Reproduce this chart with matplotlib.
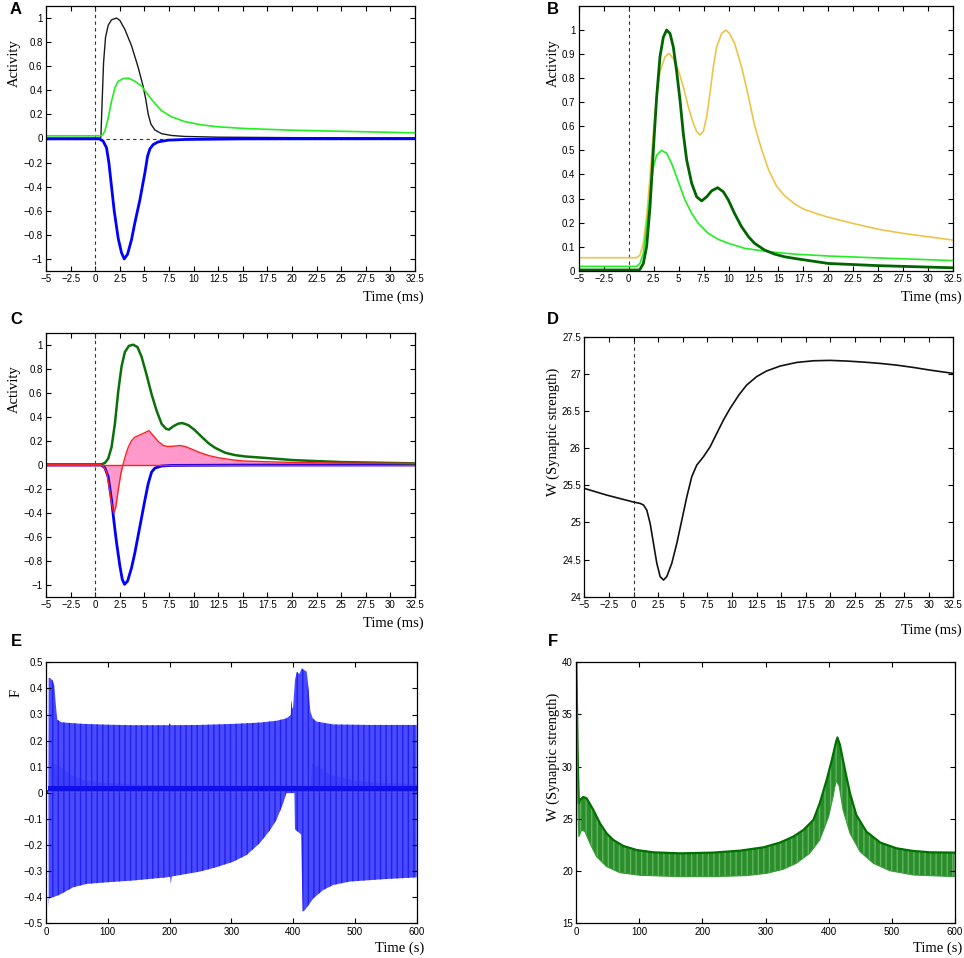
import matplotlib
matplotlib.use('Agg')
import matplotlib.pyplot as plt
import numpy as np

# ---- panel A: activity traces (ms) ----
a_black_t = [-5, 0.5, 0.58, 0.71, 0.85, 1.05, 1.32, 1.66, 2.17, 2.51, 3.02, 3.69, 4.37, 4.88, 5.15, 5.39,
             5.66, 6.07, 6.75, 7.76, 9.12, 12.5, 20, 32.5]
a_black_v = [0.003, 0.003, 0.014, 0.32, 0.63, 0.84, 0.94, 0.985, 1.0, 0.98, 0.905, 0.77, 0.59, 0.43, 0.32, 0.20,
             0.12, 0.07, 0.04, 0.025, 0.017, 0.011, 0.007, 0.005]
a_green_t = [-5, 0.47, 0.75, 0.98, 1.32, 1.66, 2.0, 2.34, 2.85, 3.42, 4.03, 4.71, 5.39, 6.07, 6.75, 7.76, 9.12,
             10.8, 12.5, 15.2, 20, 25, 32.5]
a_green_v = [0.022, 0.022, 0.03, 0.061, 0.17, 0.31, 0.42, 0.475, 0.498, 0.5, 0.475, 0.435, 0.36, 0.29, 0.23, 0.18,
             0.14, 0.113, 0.097, 0.083, 0.069, 0.06, 0.047]
a_blue_t = [-5, 0.3, 0.47, 0.81, 1.15, 1.39, 1.66, 1.93, 2.34, 2.68, 2.95, 3.29, 3.69, 4.03, 4.54, 5.05, 5.32,
            5.56, 5.9, 6.4, 7.42, 9.12, 15.2, 32.5]
a_blue_v = [-0.003, -0.003, -0.005, -0.022, -0.077, -0.2, -0.4, -0.6, -0.83, -0.95, -1.0, -0.96, -0.84, -0.70,
            -0.51, -0.285, -0.147, -0.086, -0.05, -0.028, -0.014, -0.008, -0.003, -0.002]

# ---- panel B ----
b_dark_t = [-5, 1.0, 1.13, 1.47, 1.80, 2.14, 2.47, 2.80, 3.14, 3.47, 3.80, 4.14, 4.47, 4.80, 5.14, 5.47, 5.81,
            6.31, 6.81, 7.31, 7.81, 8.31, 8.91, 9.48, 9.98, 10.6, 11.3, 12.0, 12.6, 13.6, 14.6, 15.6, 16.6,
            20, 25, 32.5]
b_dark_v = [0.003, 0.003, 0.005, 0.03, 0.10, 0.266, 0.50, 0.72, 0.89, 0.97, 1.0, 0.986, 0.93, 0.83, 0.71, 0.57,
            0.46, 0.363, 0.307, 0.29, 0.307, 0.332, 0.345, 0.328, 0.294, 0.238, 0.183, 0.141, 0.114, 0.086,
            0.069, 0.058, 0.051, 0.03, 0.021, 0.012]
b_light_t = [-5, 0.8, 1.13, 1.47, 1.80, 2.14, 2.47, 2.80, 3.30, 3.80, 4.30, 4.97, 5.64, 6.31, 6.97, 7.97, 8.98,
             9.98, 11.6, 13.3, 15.0, 16.6, 20, 25, 32.5]
b_light_v = [0.018, 0.018, 0.03, 0.072, 0.183, 0.32, 0.43, 0.48, 0.50, 0.488, 0.446, 0.37, 0.294, 0.238, 0.197,
             0.155, 0.13, 0.114, 0.093, 0.083, 0.075, 0.069, 0.061, 0.053, 0.042]
b_yellow_t = [-5, 0.8, 1.13, 1.47, 1.80, 2.14, 2.47, 2.80, 3.14, 3.64, 4.04, 4.47, 4.97, 5.47, 5.97, 6.47, 6.81,
              7.14, 7.47, 7.81, 8.14, 8.48, 8.81, 9.31, 9.74, 10.1, 10.6, 11.3, 12.0, 12.6, 13.3, 14.0, 14.8,
              15.6, 16.6, 17.5, 18.75, 20, 22.5, 25, 27.5, 30, 32.5]
b_yellow_v = [0.054, 0.054, 0.065, 0.114, 0.224, 0.39, 0.57, 0.723, 0.827, 0.889, 0.903, 0.882, 0.834, 0.765,
              0.681, 0.612, 0.578, 0.564, 0.578, 0.64, 0.737, 0.848, 0.93, 0.986, 1.0, 0.986, 0.945, 0.848,
              0.723, 0.605, 0.505, 0.42, 0.352, 0.312, 0.278, 0.256, 0.238, 0.222, 0.196, 0.172, 0.155, 0.141,
              0.127]

# ---- panel C ----
c_green_t = [-5, 0.64, 0.98, 1.32, 1.66, 2.0, 2.34, 2.68, 3.02, 3.42, 3.86, 4.3, 4.71, 5.22, 5.73, 6.24, 6.75,
             7.19, 7.49, 7.93, 8.44, 8.85, 9.46, 10.1, 10.8, 11.5, 12.2, 13.2, 14.2, 15.2, 17.5, 20, 22.5, 25,
             32.5]
c_green_v = [0.003, 0.003, 0.014, 0.05, 0.146, 0.34, 0.61, 0.82, 0.94, 0.99, 1.0, 0.98, 0.90, 0.75, 0.587, 0.45,
             0.34, 0.30, 0.292, 0.32, 0.342, 0.347, 0.33, 0.29, 0.234, 0.18, 0.14, 0.10, 0.08, 0.069, 0.055,
             0.039, 0.03, 0.022, 0.011]
c_blue_t = [-5, 0.64, 0.98, 1.32, 1.66, 1.93, 2.17, 2.51, 2.75, 2.98, 3.29, 3.69, 4.03, 4.54, 5.05, 5.39, 5.73,
            6.07, 6.75, 7.76, 15.2, 32.5]
c_blue_v = [-0.003, -0.003, -0.025, -0.10, -0.295, -0.49, -0.65, -0.845, -0.956, -0.997, -0.97, -0.86, -0.735,
            -0.515, -0.295, -0.157, -0.061, -0.028, -0.011, -0.006, -0.003, -0.002]
c_red_t = [-5, 0.47, 0.81, 1.15, 1.42, 1.66, 1.9, 2.1, 2.34, 2.61, 2.85, 3.08, 3.36, 3.69, 4.03, 4.54, 5.05,
           5.46, 5.9, 6.41, 6.92, 7.36, 7.93, 8.61, 9.12, 9.8, 10.6, 11.5, 12.5, 13.9, 15.2, 20, 25, 32.5]
c_red_v = [0.003, 0.003, -0.01, -0.06, -0.185, -0.32, -0.405, -0.35, -0.21, -0.074, 0.008, 0.077, 0.146, 0.20,
           0.229, 0.248, 0.267, 0.284, 0.242, 0.193, 0.16, 0.152, 0.154, 0.16, 0.152, 0.13, 0.102, 0.077,
           0.058, 0.041, 0.03, 0.019, 0.014, 0.011]

# ---- panel D: synaptic strength (ms) ----
d_t = [-5, -2.73, 0, 0.68, 1.02, 1.35, 1.69, 2.03, 2.37, 2.71, 3.05, 3.38, 3.89, 4.4, 4.91, 5.42, 5.92, 6.43,
       7.11, 7.79, 8.46, 9.14, 9.82, 10.7, 11.5, 12.5, 13.5, 14.9, 16.6, 18.3, 20.0, 21.7, 23.4, 25.1, 26.7,
       28.4, 30.1, 32.5]
d_w = [25.458, 25.368, 25.274, 25.256, 25.234, 25.166, 24.987, 24.718, 24.449, 24.27, 24.224, 24.27, 24.449,
       24.718, 25.03, 25.346, 25.615, 25.772, 25.884, 26.019, 26.198, 26.378, 26.535, 26.714, 26.849, 26.961,
       27.037, 27.105, 27.154, 27.176, 27.181, 27.172, 27.158, 27.14, 27.118, 27.087, 27.051, 27.006]

# ---- panel E: envelope of F over 600 s ----
e_up_t = [0, 3.9, 4.3, 6.5, 10.8, 13.5, 16.2, 18.3, 25, 60, 98, 141, 199, 200.5, 202, 249, 303, 346, 373, 389,
          396, 397.5, 398.5, 400, 403, 406, 410, 414, 418, 422, 425, 428, 432, 438, 465, 519, 600]
e_up_v = [0.01, 0.01, 0.44, 0.44, 0.43, 0.41, 0.33, 0.28, 0.27, 0.264, 0.261, 0.259, 0.259, 0.267, 0.259, 0.26,
          0.264, 0.269, 0.276, 0.285, 0.298, 0.356, 0.32, 0.33, 0.432, 0.464, 0.455, 0.477, 0.47, 0.464, 0.394,
          0.31, 0.285, 0.273, 0.262, 0.26, 0.26]
e_lo_t = [0, 3.9, 4.3, 5, 6.5, 11.9, 22.7, 44, 66, 98, 141, 195, 201, 202, 203.5, 205, 217, 249, 276, 303, 325,
          346, 363, 373, 384, 389, 390, 402, 403, 408, 413, 414, 415.5, 419, 433, 449, 465, 492, 546, 600]
e_lo_v = [0, 0, -0.44, -0.41, -0.40, -0.40, -0.39, -0.362, -0.349, -0.343, -0.336, -0.324, -0.321, -0.35, -0.322,
          -0.32, -0.315, -0.302, -0.285, -0.264, -0.238, -0.193, -0.142, -0.104, -0.04, -0.002, 0.008, 0.008,
          -0.14, -0.15, -0.16, -0.30, -0.455, -0.45, -0.404, -0.372, -0.353, -0.34, -0.331, -0.324]
e_fan_t = [8, 20, 40, 60, 100, 150, 200, 300, 380, 428, 430, 440, 460, 500, 550, 600]
e_fan_v = [0.12, 0.105, 0.07, 0.05, 0.04, 0.032, 0.03, 0.03, 0.03, 0.03, 0.115, 0.1, 0.07, 0.048, 0.038, 0.035]
e_band_t = [4, 600]
e_band_lo = [0.005, 0.005]
e_band_hi = [0.025, 0.025]

# ---- panel F: envelope of W over 600 s ----
f_up_t = [0, 1, 2.5, 4, 5.8, 11, 16.4, 27, 37.5, 48, 58.7, 74.5, 95.7, 122, 164, 217, 260, 297, 323, 344, 360,
          376, 386, 397, 405, 412, 414, 418, 426, 434, 444, 460, 482, 508, 534, 561, 600]
f_up_v = [40, 36, 30, 26.5, 26.8, 27.1, 26.97, 25.86, 24.58, 23.62, 22.98, 22.41, 22.02, 21.8, 21.7, 21.77,
          21.96, 22.28, 22.73, 23.3, 23.94, 24.9, 26.5, 28.73, 30.6, 32.4, 32.8, 32.1, 29.7, 27.45, 25.38, 23.78,
          22.73, 22.18, 21.93, 21.8, 21.77]
f_lo_t = [0, 1, 3, 4, 8.5, 13.7, 21.7, 32, 48, 69, 101, 164, 217, 270, 302, 328, 349, 370, 386, 400, 407, 412,
          417, 423, 434, 450, 471, 497, 534, 600]
f_lo_v = [40, 34, 25, 23.3, 23.94, 23.78, 22.66, 21.39, 20.43, 19.85, 19.6, 19.47, 19.47, 19.57, 19.79, 20.17,
          20.75, 21.7, 22.98, 25.2, 27.1, 28.7, 28.1, 25.86, 23.62, 21.86, 20.75, 20.04, 19.63, 19.47]

ms_ticks = [-5, -2.5, 0, 2.5, 5, 7.5, 10, 12.5, 15, 17.5, 20, 22.5, 25, 27.5, 30, 32.5]
act_ticks = [-1, -0.8, -0.6, -0.4, -0.2, 0, 0.2, 0.4, 0.6, 0.8, 1]
b_ticks = [0, 0.1, 0.2, 0.3, 0.4, 0.5, 0.6, 0.7, 0.8, 0.9, 1]
d_ticks = [24, 24.5, 25, 25.5, 26, 26.5, 27, 27.5]
s_ticks = [0, 100, 200, 300, 400, 500, 600]
e_ticks = [-0.5, -0.4, -0.3, -0.2, -0.1, 0, 0.1, 0.2, 0.3, 0.4, 0.5]
f_ticks = [15, 20, 25, 30, 35, 40]

W, H = 964, 958
fig = plt.figure(figsize=(W / 100, H / 100), dpi=100)
sans = 'Liberation Sans'
serif = 'Liberation Serif'


def fmt(v, pos=None):
    s = '%g' % round(v, 4)
    return s.replace('-', '\u2212')


def make_axes(l, t, r, b, xlim, ylim, xt, yt):
    ax = fig.add_axes([l / W, 1 - b / H, (r - l) / W, (b - t) / H])
    ax.set_xlim(*xlim)
    ax.set_ylim(*ylim)
    ax.set_xticks(xt)
    ax.set_yticks(yt)
    ax.xaxis.set_major_formatter(plt.FuncFormatter(fmt))
    ax.yaxis.set_major_formatter(plt.FuncFormatter(fmt))
    ax.tick_params(direction='in', length=3.5, width=0.8, top=True, right=True, labelsize=7, pad=2.5)
    for lab in ax.get_xticklabels() + ax.get_yticklabels():
        lab.set_family(sans)
    for sp in ax.spines.values():
        sp.set_linewidth(0.9)
    return ax


def px_text(x, y, s, **kw):
    fig.text(x / W, 1 - y / H, s, **kw)


def letter(x, y, s):
    px_text(x, y, s, fontsize=12, fontweight='bold', family=sans, ha='center', va='center')


def ylab(x, y, s):
    px_text(x, y, s, fontsize=10.5, family=serif, rotation=90, ha='center', va='center')


def xlab(x, y, s):
    px_text(x, y, s, fontsize=10.5, family=serif, ha='right', va='center')


# A
ax = make_axes(46, 6, 415, 271, (-5, 32.5), (-1.1, 1.1), ms_ticks, act_ticks)
ax.axvline(0, color='#333333', ls=(0, (3, 3)), lw=0.8)
ax.axhline(0, color='#333333', ls=(0, (3, 3)), lw=0.8)
ax.plot(a_black_t, a_black_v, color='#1a1a1a', lw=1.0)
ax.plot(a_green_t, a_green_v, color='#22ee22', lw=1.2)
ax.plot(a_blue_t, a_blue_v, color='#0000ff', lw=2.0)
letter(16, 9, 'A')
ylab(14, 63, 'Activity')
xlab(424, 297, 'Time (ms)')

# B
ax = make_axes(578.7, 6, 953.3, 270.7, (-5, 32.5), (0, 1.1), ms_ticks, b_ticks)
ax.axvline(0, color='#333333', ls=(0, (3, 3)), lw=0.8)
ax.plot(b_yellow_t, b_yellow_v, color='#ebc54a', lw=1.2)
ax.plot(b_light_t, b_light_v, color='#22ee22', lw=1.2)
ax.plot(b_dark_t, b_dark_v, color='#006400', lw=2.0)
letter(553, 9, 'B')
ylab(553, 63, 'Activity')
xlab(962, 297, 'Time (ms)')

# C
ax = make_axes(46, 332.7, 415, 596.7, (-5, 32.5), (-1.1, 1.1), ms_ticks, act_ticks)
ax.axvline(0, color='#333333', ls=(0, (3, 3)), lw=0.8)
ax.fill_between(c_red_t, 0, c_red_v, color='#ff99cc', lw=0)
ax.plot(c_blue_t, c_blue_v, color='#0000ff', lw=2.0)
ax.plot(c_green_t, c_green_v, color='#0a700a', lw=1.8)
ax.axhline(0, color='#ff2020', lw=1.0)
ax.plot(c_red_t, c_red_v, color='#ff2020', lw=1.0)
letter(16, 319, 'C')
ylab(14, 389, 'Activity')
xlab(424, 623, 'Time (ms)')

# D
ax = make_axes(584.3, 336.7, 953.3, 596.7, (-5, 32.5), (24, 27.5), ms_ticks, d_ticks)
ax.axvline(0, color='#333333', ls=(0, (3, 3)), lw=0.8)
ax.plot(d_t, d_w, color='#111111', lw=1.2)
letter(553, 319, 'D')
ylab(553, 432, 'W (Synaptic strength)')
xlab(962, 630, 'Time (ms)')

# E
ax = make_axes(46, 662.3, 416.7, 923.3, (0, 600), (-0.5, 0.5), s_ticks, e_ticks)
ax.fill_between(e_up_t, 0, e_up_v, facecolor='#4a4aff', edgecolor='#2020f0', lw=0, hatch='|||')
ax.fill_between(e_lo_t, e_lo_v, 0, facecolor='#4a4aff', edgecolor='#2020f0', lw=0, hatch='|||')
ax.fill_between(e_fan_t, 0, e_fan_v, color='#2a2af5', lw=0, alpha=0.35)
ax.fill_between(e_band_t, e_band_lo, e_band_hi, color='#1010e8', lw=0)
letter(16, 641, 'E')
ylab(16, 693, 'F')
xlab(424, 948, 'Time (s)')

# F
ax = make_axes(576.3, 662.3, 954.7, 923.3, (0, 600), (15, 40), s_ticks, f_ticks)
ax.fill(np.r_[f_up_t, f_lo_t[::-1]], np.r_[f_up_v, f_lo_v[::-1]], facecolor='#2a8e2a', edgecolor='#62b262',
        lw=0, hatch='|||')
ax.plot(f_up_t, f_up_v, color='#007000', lw=1.6)
ax.plot(f_lo_t, f_lo_v, color='#3a9a3a', lw=0.8)
letter(553, 641, 'F')
ylab(553, 757, 'W (Synaptic strength)')
xlab(962, 948, 'Time (s)')

fig.savefig('out.png', dpi=100)
